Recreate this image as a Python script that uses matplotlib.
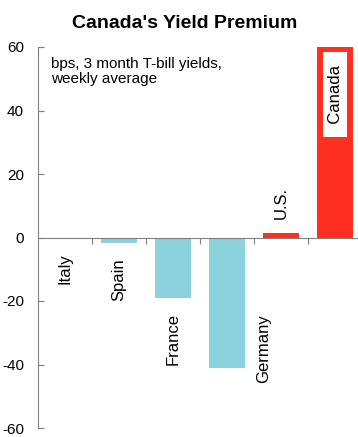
# Canada's Yield Premium - 3 month T-bill spreads vs Canada
import matplotlib.pyplot as plt
import numpy as np

plt.rcParams['font.family'] = ['Liberation Sans', 'DejaVu Sans']

countries = ['Italy', 'Spain', 'France', 'Germany', 'U.S.', 'Canada']
premium = [-0.2, -1.7, -19.0, -41.0, 1.3, 60.0]
yticks = [-60, -40, -20, 0, 20, 40, 60]

blue = '#8CD2DC'
red = '#FF3020'
gray = '#808080'

fig = plt.figure(figsize=(3.58, 4.37), dpi=100)
ax = fig.add_axes([38 / 358, 9 / 437, 320 / 358, 381 / 437])

x = np.arange(len(countries))
colors = [red if v > 0 else blue for v in premium]
ax.bar(x, premium, width=0.66, color=colors, zorder=2)

ax.set_xlim(-0.5, -0.5 + 320 / 54)
ax.set_ylim(-60, 60)
ax.set_yticks(yticks)
ax.set_yticklabels([str(t) for t in yticks], fontsize=11)
ax.set_xticks(np.arange(len(countries) - 1) + 0.5)
ax.set_xticklabels([])

for s in ['top', 'right']:
    ax.spines[s].set_visible(False)
ax.spines['left'].set_color(gray)
ax.spines['bottom'].set_color(gray)
ax.spines['bottom'].set_position(('data', 0))
ax.tick_params(axis='y', direction='in', length=4, color=gray, pad=10)
ax.tick_params(axis='x', direction='out', length=4, color=gray)

# country labels (rotated), offsets in points
px = 72 / 100
for i, (name, v) in enumerate(zip(countries, premium)):
    if name == 'Canada':
        ax.annotate('  ' + name + '  ', (i, v), xytext=(0, -9 * px),
                    textcoords='offset points', rotation=90, ha='center',
                    va='top', fontsize=12,
                    bbox=dict(boxstyle='square,pad=0.25', fc='white', ec='none'))
    elif v > 0:
        ax.annotate(name, (i, v), xytext=(0, 14 * px), textcoords='offset points',
                    rotation=90, ha='center', va='bottom', fontsize=12)
    elif name == 'Germany':
        ax.annotate(name, (i, -20), xytext=(37 * px, -13 * px),
                    textcoords='offset points', rotation=90, ha='center',
                    va='top', fontsize=12)
    else:
        ax.annotate(name, (i, v), xytext=(0, -15 * px), textcoords='offset points',
                    rotation=90, ha='center', va='top', fontsize=12)

ax.text(0.04, 0.975, 'bps, 3 month T-bill yields,\nweekly average',
        transform=ax.transAxes, ha='left', va='top', fontsize=11,
        linespacing=1.1)

fig.text(184.5 / 358, 1 - 28 / 437, "Canada's Yield Premium", ha='center',
         va='baseline', fontsize=14, fontweight='bold')

plt.savefig('out.png', dpi=100)
